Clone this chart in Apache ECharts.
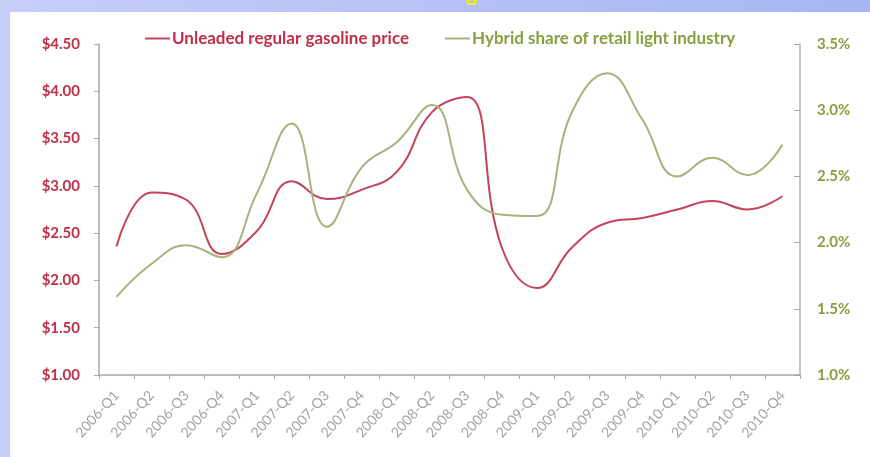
<!DOCTYPE html>
<html>
<head>
<meta charset="utf-8">
<script src="https://cdn.jsdelivr.net/npm/echarts@6/dist/echarts.min.js"></script>
<style>
  html, body { margin: 0; padding: 0; }
  #chart { width: 870px; height: 457px; }
</style>
</head>
<body>
<div id="chart"></div>
<script>
// Quarterly categories
const quarters = [
  '2006-Q1','2006-Q2','2006-Q3','2006-Q4',
  '2007-Q1','2007-Q2','2007-Q3','2007-Q4',
  '2008-Q1','2008-Q2','2008-Q3','2008-Q4',
  '2009-Q1','2009-Q2','2009-Q3','2009-Q4',
  '2010-Q1','2010-Q2','2010-Q3','2010-Q4'
];

// Unleaded regular gasoline price, $ per gallon
const gasPrice = [
  2.36, 2.93, 2.85, 2.28,
  2.52, 3.05, 2.86, 2.96,
  3.15, 3.78, 3.94, 2.34,
  1.92, 2.35, 2.61, 2.66,
  2.75, 2.84, 2.75, 2.89
];

// Hybrid share of retail light industry, %
const hybridShare = [
  1.59, 1.84, 1.98, 1.89,
  2.37, 2.90, 2.12, 2.57,
  2.76, 3.04, 2.40, 2.21,
  2.20, 2.99, 3.28, 2.93,
  2.50, 2.64, 2.51, 2.74
];

const seriesNames = ['Unleaded regular gasoline price', 'Hybrid share of retail light industry'];

const RED = '#c4445c';
const GREEN = '#a3b47c';
const RED_TEXT = '#bf3048';
const GREEN_TEXT = '#86a040';
const AXIS_GRAY = '#a6a6a6';
const FONT = 'Lato, "Liberation Sans", sans-serif';

const chart = echarts.init(document.getElementById('chart'));

chart.setOption({
  animation: false,
  textStyle: { fontFamily: FONT },
  graphic: [
    {
      type: 'rect', z: -10, silent: true,
      shape: { x: 0, y: 0, width: 870, height: 457 },
      style: {
        fill: new echarts.graphic.LinearGradient(0, 0, 1, 0, [
          { offset: 0, color: '#c6cef8' },
          { offset: 1, color: '#a6b6f2' }
        ])
      }
    },
    {
      type: 'text', z: -9, silent: true,
      left: 466, top: -17,
      style: { text: 'g', fill: '#f4f000', font: 'bold 22px ' + FONT }
    },
    {
      type: 'rect', z: -8, silent: true,
      shape: { x: 10, y: 12, width: 860, height: 445 },
      style: { fill: '#ffffff' }
    }
  ],
  grid: { left: 99, right: 70, top: 44, bottom: 82 },
  legend: {
    left: 140, top: 25,
    itemGap: 36,
    itemWidth: 25, itemHeight: 2,
    icon: 'rect',
    data: [
      { name: seriesNames[0], textStyle: { color: RED_TEXT } },
      { name: seriesNames[1], textStyle: { color: GREEN_TEXT } }
    ],
    textStyle: { fontSize: 17, fontWeight: 'bold', fontFamily: FONT, padding: [0, 0, 0, -3] }
  },
  xAxis: {
    type: 'category',
    data: quarters,
    boundaryGap: true,
    axisLine: { lineStyle: { color: AXIS_GRAY, width: 1.5 } },
    axisTick: { show: true, length: 4, lineStyle: { color: AXIS_GRAY } },
    axisLabel: {
      rotate: 48, interval: 0, margin: 18,
      color: '#a4a4a4', fontSize: 14, fontFamily: FONT
    },
    splitLine: { show: false }
  },
  yAxis: [
    {
      type: 'value', position: 'left',
      min: 1, max: 4.5, interval: 0.5,
      axisLine: { show: true, lineStyle: { color: AXIS_GRAY, width: 1.5 } },
      axisTick: { show: true, length: 5, lineStyle: { color: AXIS_GRAY } },
      axisLabel: {
        margin: 19, color: RED_TEXT, fontSize: 15, fontWeight: 'bold', fontFamily: FONT,
        formatter: v => '$' + v.toFixed(2)
      },
      splitLine: { show: false }
    },
    {
      type: 'value', position: 'right',
      min: 1, max: 3.5, interval: 0.5,
      axisLine: { show: true, lineStyle: { color: '#c8c8c8', width: 2 } },
      axisTick: { show: true, inside: true, length: 6, lineStyle: { color: AXIS_GRAY } },
      axisLabel: {
        margin: 17, color: GREEN_TEXT, fontSize: 15, fontWeight: 'bold', fontFamily: FONT,
        formatter: v => v.toFixed(1) + '%'
      },
      splitLine: { show: false }
    }
  ],
  series: [
    {
      name: seriesNames[0], type: 'line', yAxisIndex: 0,
      data: gasPrice, smooth: 0.45, showSymbol: false,
      lineStyle: { color: RED, width: 2 }, itemStyle: { color: RED }
    },
    {
      name: seriesNames[1], type: 'line', yAxisIndex: 1,
      data: hybridShare, smooth: 0.45, showSymbol: false,
      lineStyle: { color: GREEN, width: 2 }, itemStyle: { color: GREEN }
    }
  ]
});
</script>
</body>
</html>
